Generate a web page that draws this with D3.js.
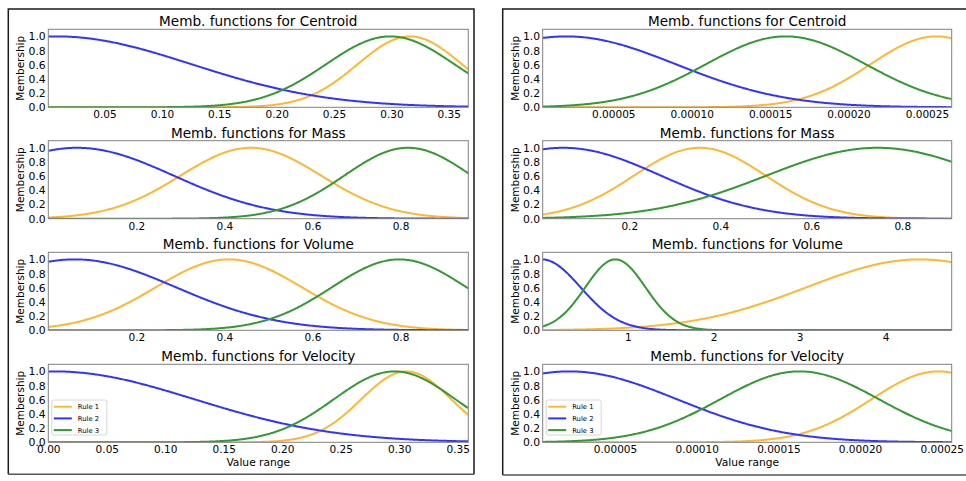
<!DOCTYPE html>
<html><head><meta charset="utf-8">
<script src="https://cdn.jsdelivr.net/npm/d3@7"></script>
<style>body{margin:0;background:#fff;} svg{display:block;font-family:"DejaVu Sans",sans-serif;}</style>
</head><body><svg id="c" width="966" height="481"></svg>
<script>
// ---------- data ----------
const variables = ["Centroid", "Mass", "Volume", "Velocity"];
const rules = ["Rule 1", "Rule 2", "Rule 3"];
const ruleColors = ["#ffb733", "#3333ff", "#339933"];
const yTickLabels = ["0.0", "0.2", "0.4", "0.6", "0.8", "1.0"];

// left figure: value range per variable, Gaussian membership centres / widths per rule
const leftRanges = [[0.001, 0.367], [0.0, 0.954], [0.0, 0.954], [0.0, 0.359]];
const leftMeans  = [[0.316, 0.008, 0.299], [0.46, 0.065, 0.817], [0.41, 0.06, 0.797], [0.306, 0.005, 0.296]];
const leftSigmas = [[0.0455, 0.118, 0.056], [0.16, 0.22, 0.145], [0.166, 0.23, 0.153], [0.0385, 0.12, 0.052]];
const leftTickLabels = [
  ["0.05", "0.10", "0.15", "0.20", "0.25", "0.30", "0.35"],
  ["0.2", "0.4", "0.6", "0.8"],
  ["0.2", "0.4", "0.6", "0.8"],
  ["0.00", "0.05", "0.10", "0.15", "0.20", "0.25", "0.30", "0.35"]
];

// right figure
const rightRanges = [[5.0e-6, 2.658e-4], [0.0097, 0.9086], [0.01, 4.77], [5.75e-6, 2.561e-4]];
const rightMeans  = [[2.56e-4, 2.0e-5, 1.6e-4], [0.355, 0.055, 0.746], [4.4, 0.0, 0.856], [2.48e-4, 2.2e-5, 1.63e-4]];
const rightSigmas = [[4.2e-5, 7.0e-5, 5.1e-5], [0.145, 0.215, 0.245], [1.32, 0.45, 0.35], [4.1e-5, 6.6e-5, 4.86e-5]];
const rightTickLabels = [
  ["0.00005", "0.00010", "0.00015", "0.00020", "0.00025"],
  ["0.2", "0.4", "0.6", "0.8"],
  ["1", "2", "3", "4"],
  ["0.00005", "0.00010", "0.00015", "0.00020", "0.00025"]
];

// ---------- drawing ----------
const svg = d3.select("#c");
const tops = [29.3, 140.7, 252.3, 364.3];
const axH = 78;
const panels = [
  {x0: 48.3, x1: 468.3, ranges: leftRanges, means: leftMeans, sigmas: leftSigmas, ticks: leftTickLabels, box: [8.3, 9, 465.7, 465.3]},
  {x0: 542.7, x1: 951.7, ranges: rightRanges, means: rightMeans, sigmas: rightSigmas, ticks: rightTickLabels, box: [502.7, 9, 480, 466]}
];

const defs = svg.append("defs");

panels.forEach((p, pi) => {
  const [bx, by, bw, bh] = p.box;
  svg.append("path").attr("d", `M${bx},${by+bh}V${by}H${bx+bw}V${by+bh}`)
    .attr("fill", "none").attr("stroke", "#1a1a1a").attr("stroke-width", 1.5);
  svg.append("line").attr("x1", bx).attr("x2", bx + bw).attr("y1", by + bh).attr("y2", by + bh)
    .attr("stroke", "#555").attr("stroke-width", 1.5);

  variables.forEach((v, vi) => {
    const top = tops[vi];
    const x = d3.scaleLinear().domain(p.ranges[vi]).range([p.x0, p.x1]);
    const y = d3.scaleLinear().domain([0, 1.1]).range([top + axH, top]);
    const g = svg.append("g");
    const cid = `clip${pi}${vi}`;
    defs.append("clipPath").attr("id", cid).append("rect")
      .attr("x", p.x0).attr("y", top).attr("width", p.x1 - p.x0).attr("height", axH);

    const [a, b] = p.ranges[vi];
    const xs = d3.range(0, 401).map(i => a + (b - a) * i / 400);
    rules.forEach((r, ri) => {
      const c = p.means[vi][ri], s = p.sigmas[vi][ri];
      const pts = xs.map(xx => [xx, Math.exp(-((xx - c) ** 2) / (2 * s * s))]);
      g.append("path").datum(pts)
        .attr("clip-path", `url(#${cid})`)
        .attr("fill", "none").attr("stroke", ruleColors[ri]).attr("stroke-width", 2)
        .attr("d", d3.line().x(d => x(d[0])).y(d => y(d[1])));
    });

    g.append("rect").attr("x", p.x0).attr("y", top).attr("width", p.x1 - p.x0).attr("height", axH)
      .attr("fill", "none").attr("stroke", "#808080").attr("stroke-width", 1);

    const xAxis = d3.axisBottom(x).tickValues(p.ticks[vi].map(Number))
      .tickFormat((d, i) => p.ticks[vi][i]).tickSize(0).tickPadding(3.5);
    const xg = g.append("g").attr("transform", `translate(0,${top + axH})`).call(xAxis);
    xg.select(".domain").remove();
    xg.selectAll("text").attr("font-size", 10.5).attr("font-family", "DejaVu Sans").attr("fill", "#000");

    const yAxis = d3.axisLeft(y).tickValues(yTickLabels.map(Number))
      .tickFormat((d, i) => yTickLabels[i]).tickSize(0).tickPadding(2.6);
    const yg = g.append("g").attr("transform", `translate(${p.x0},0)`).call(yAxis);
    yg.select(".domain").remove();
    yg.selectAll("text").attr("font-size", 10.8).attr("font-family", "DejaVu Sans").attr("fill", "#000");

    g.append("text").attr("transform", `translate(${p.x0 - 24},${top + axH / 2}) rotate(-90)`)
      .attr("text-anchor", "middle").attr("font-size", 10.5).text("Membership");

    g.append("text").attr("x", (p.x0 + p.x1) / 2).attr("y", top - 3)
      .attr("text-anchor", "middle").attr("font-size", 13.6).text("Memb. functions for " + v);

    if (vi === 3) {
      g.append("text").attr("x", (p.x0 + p.x1) / 2).attr("y", top + axH + 24)
        .attr("text-anchor", "middle").attr("font-size", 10.7).text("Value range");
      const lg = g.append("g").attr("transform", `translate(${p.x0 + 3.5},${top + 35.7})`);
      lg.append("rect").attr("width", 55).attr("height", 35).attr("rx", 2)
        .attr("fill", "#fff").attr("fill-opacity", 0.8).attr("stroke", "#ccc").attr("stroke-width", 0.8);
      rules.forEach((r, ri) => {
        const yy = 6.7 + ri * 11.7;
        lg.append("line").attr("x1", 2).attr("x2", 20).attr("y1", yy).attr("y2", yy)
          .attr("stroke", ruleColors[ri]).attr("stroke-width", 2);
        lg.append("text").attr("x", 26).attr("y", yy + 2.4).attr("font-size", 6.8).text(r);
      });
    }
  });
});
</script></body></html>
